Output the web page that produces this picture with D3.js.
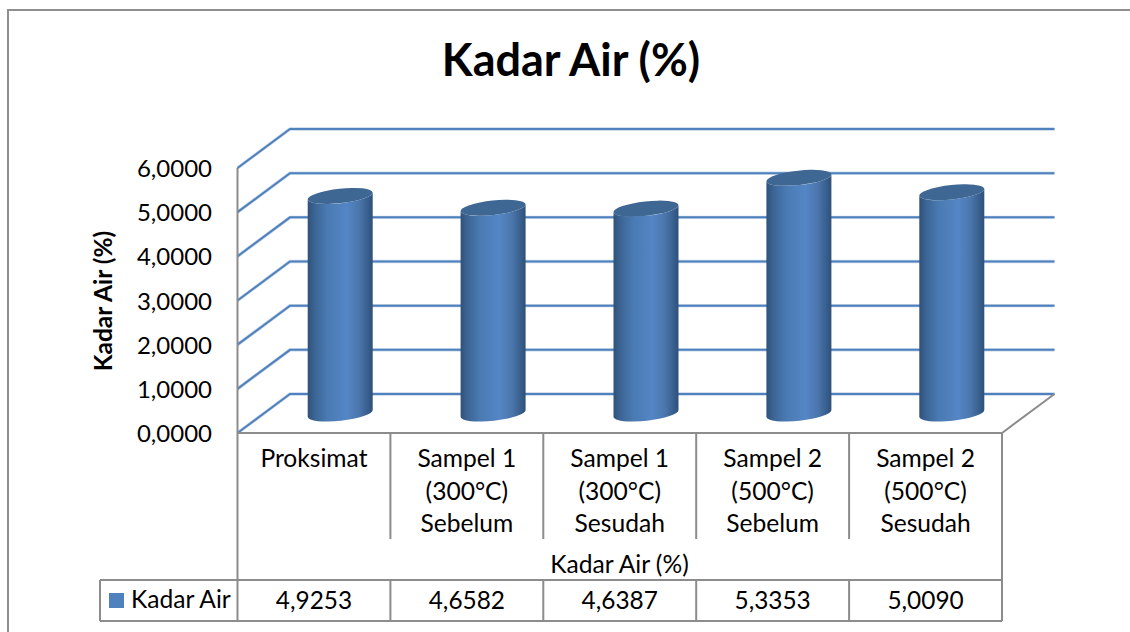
<!DOCTYPE html>
<html><head><meta charset="utf-8">
<script src="https://cdnjs.cloudflare.com/ajax/libs/d3/7.8.5/d3.min.js"></script>
<style>html,body{margin:0;padding:0;background:#fff}svg{display:block}text{font-family:Lato,"Open Sans",sans-serif;fill:#000}</style>
</head><body><svg id="c" width="1130" height="632"></svg>
<script>
const categories=[["Proksimat"],["Sampel 1","(300°C)","Sebelum"],["Sampel 1","(300°C)","Sesudah"],["Sampel 2","(500°C)","Sebelum"],["Sampel 2","(500°C)","Sesudah"]];
const values=[4.9253,4.6582,4.6387,5.3353,5.0090];
const tableLabels=["4,9253","4,6582","4,6387","5,3353","5,0090"];
const yTicks=[0,1,2,3,4,5,6];
const title="Kadar Air (%)", axisTitle="Kadar Air (%)", groupLabel="Kadar Air (%)", seriesName="Kadar Air";

const svg=d3.select("#c");
const GREY="#8c8c8c", BLUE="#4f81bd";
const y=d3.scaleLinear().domain([0,6]).range([433,168]);
const x=d3.scaleBand().domain(d3.range(5)).range([237.5,1002]);
const dx=52.5, dy=39;

const defs=svg.append("defs");
const g=defs.append("linearGradient").attr("id","cyl");
[[0,"#2f5179"],[.1,"#3b6493"],[.3,"#4a7ab2"],[.6,"#5486c6"],[.8,"#4a75aa"],[.95,"#345a87"],[1,"#2f5078"]]
 .forEach(s=>g.append("stop").attr("offset",s[0]).attr("stop-color",s[1]));

// frame
svg.append("path").attr("d","M8,632V10H1130").attr("fill","none").attr("stroke","#8f8f8f").attr("stroke-width",2);

svg.append("text").attr("x",571).attr("y",76).attr("text-anchor","middle").attr("font-size",45).attr("font-weight",700).text(title);

// gridlines on side and back walls
const gridPath=t=>`M${x.range()[0]},${y(t)}L${x.range()[0]+dx},${y(t)-dy}H${x.range()[1]+dx}`;
svg.append("g").selectAll("path").data(yTicks).join("path")
 .attr("d",gridPath).attr("fill","none").attr("stroke","#c6d6ea").attr("stroke-width",3.4);
svg.append("g").selectAll("path").data(yTicks).join("path")
 .attr("d",gridPath).attr("fill","none").attr("stroke",BLUE).attr("stroke-width",2);

// axes + floor
svg.append("path").attr("d",`M237.5,${y(6)}V621`).attr("fill","none").attr("stroke",GREY).attr("stroke-width",2);
svg.append("path").attr("d",`M237.5,${y(0)}H${x.range()[1]}L${x.range()[1]+dx},${y(0)-dy}`).attr("fill","none").attr("stroke",GREY).attr("stroke-width",2);

// cylinders
const rx=32.5, tiltY=3.6, ry=7.2, rot=-6.3, depthX=dx/2, depthY=dy/2;
const bars=svg.append("g").selectAll("g").data(values).join("g");
const cx=(d,i)=>x(i)+x.bandwidth()/2+depthX;
bars.append("path").attr("fill","url(#cyl)").attr("d",(d,i)=>{
  const c=cx(d,i), b=y(0)-depthY, t=y(d)-depthY;
  return `M${c-rx},${t+tiltY}L${c-rx},${b+tiltY}A${rx} ${ry} ${rot} 0 0 ${c+rx},${b-tiltY}L${c+rx},${t-tiltY}A${rx} ${ry} ${rot} 0 1 ${c-rx},${t+tiltY}Z`;
});
bars.append("ellipse").attr("fill","#3f6793")
 .attr("rx",rx+.2).attr("ry",ry)
 .attr("transform",(d,i)=>`translate(${cx(d,i)},${y(d)-depthY}) rotate(${rot})`);

// y axis labels
svg.append("g").selectAll("text").data(yTicks).join("text")
 .attr("x",212).attr("y",t=>y(t)+9).attr("text-anchor","end").attr("font-size",24)
 .text(t=>d3.format(".4f")(t).replace(".",","));
svg.append("text").attr("transform","translate(112,301) rotate(-90)").attr("text-anchor","middle").attr("font-size",24.5).attr("font-weight",700).text(axisTitle);

// data table
const tbl=svg.append("g").attr("fill","none").attr("stroke",GREY).attr("stroke-width",2);
tbl.append("path").attr("d",`M100,580H${x.range()[1]}M100,621H${x.range()[1]}M100,580V621M${x.range()[1]},433V621`);
tbl.selectAll("path.sep").data(d3.range(1,5)).join("path").attr("class","sep")
 .attr("d",i=>`M${x(i)},433V539M${x(i)},580V621`);

categories.forEach((lines,i)=>{
 lines.forEach((l,j)=>svg.append("text").attr("x",x(i)+x.bandwidth()/2).attr("y",467+j*32.5)
   .attr("text-anchor","middle").attr("font-size",24.6).text(l));
 svg.append("text").attr("x",x(i)+x.bandwidth()/2).attr("y",609).attr("text-anchor","middle").attr("font-size",24.4).text(tableLabels[i]);
});
svg.append("text").attr("x",619.5).attr("y",573).attr("text-anchor","middle").attr("font-size",24.6).text(groupLabel);
svg.append("rect").attr("x",109).attr("y",593).attr("width",15).attr("height",15).attr("fill",BLUE);
svg.append("text").attr("x",131).attr("y",608).attr("font-size",24.6).text(seriesName);
</script></body></html>
